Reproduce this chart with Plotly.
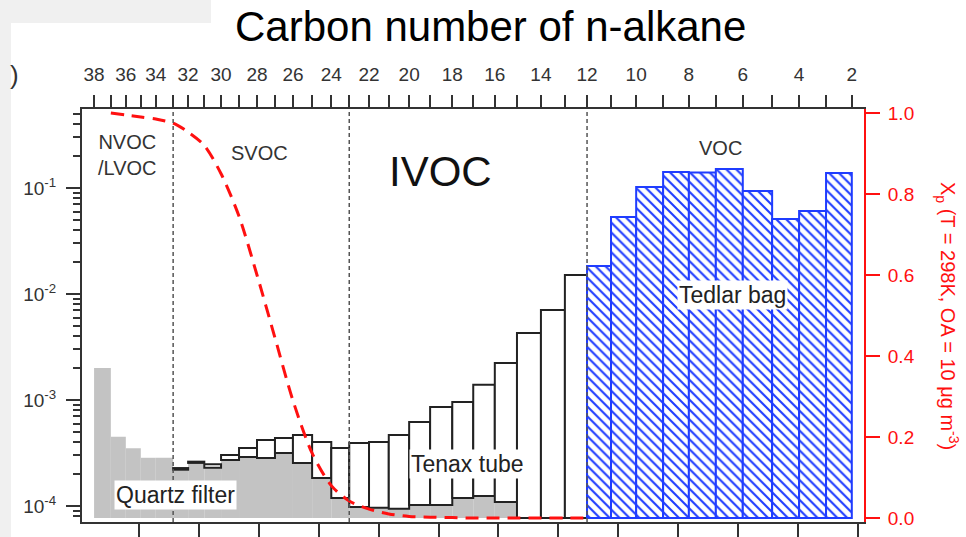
import plotly.graph_objects as go

# ---------------- data ----------------
# carbon numbers of the n-alkane scale (bin edges) and their position on the volatility axis
carbon_numbers = list(range(38, 1, -1))
carbon_pos = [-0.75, -0.47, -0.22, 0.03, 0.28, 0.57, 0.82, 1.09, 1.37, 1.67,
              1.97, 2.27, 2.57, 2.89, 3.21, 3.51, 3.84, 4.17, 4.51, 4.86,
              5.23, 5.58, 5.94, 6.31, 6.71, 7.11, 7.48, 7.88, 8.30, 8.75,
              9.18, 9.63, 10.08, 10.57, 11.02, 11.47, 11.90]

# bins, labelled by carbon number of their left edge (38 ... 3)
bin_carbon = list(range(38, 2, -1))
quartz = [2.0e-3, 4.5e-4, 3.5e-4, 2.85e-4, 2.85e-4, 2.2e-4, 2.55e-4, 2.3e-4, 2.72e-4, 2.9e-4,
          2.84e-4, 3.16e-4, 2.55e-4, 1.84e-4, 1.19e-4, 9.8e-5, 9.6e-5, 9.4e-5, 1.02e-4, 1.02e-4,
          1.19e-4, 1.24e-4, 1.09e-4, None, None, None, None, None, None, None,
          None, None, None, None, None, None]
tenax = [None, None, None, None, None, 8e-6, 7e-6, 1.7e-5, 3.1e-5, 6.2e-5,
         1.36e-4, 1.22e-4, 2.13e-4, 2.18e-4, 2.33e-4, 2.95e-4, 3.06e-4, 3.74e-4, 5.18e-4, 7.58e-4,
         8.41e-4, 1.266e-3, 2.12e-3, 4.29e-3, 7.06e-3, 1.51e-2, None, None, None, None,
         None, None, None, None, None, None]
tedlar = [None] * 26 + [1.84e-2, 5.32e-2, 0.102, 0.1415, 0.140, 0.151, 0.0937, 0.0511, 0.0607, 0.1387]

# particle-phase fraction Xp at each carbon number
xp_carbon = list(range(37, 11, -1))
xp_values = [1.0, 0.995, 0.99, 0.985, 0.975, 0.953, 0.92, 0.85, 0.745, 0.60,
             0.445, 0.29, 0.16, 0.08, 0.042, 0.022, 0.010, 0.004, 0.002, 0.001,
             0.0, 0.0, 0.0, 0.0, 0.0, 0.0]

top_labels = [str(c) if c % 2 == 0 else "" for c in carbon_numbers]
decade_vals = [1e-4, 1e-3, 1e-2, 1e-1]
decade_text = ["10<sup>-4</sup>", "10<sup>-3</sup>", "10<sup>-2</sup>", "10<sup>-1</sup>"]
xp_ticks = [0.0, 0.2, 0.4, 0.6, 0.8, 1.0]
xp_ticktext = ["0.0", "0.2", "0.4", "0.6", "0.8", "1.0"]
region_bounds = [33, 23, 12]

# ---------------- layout constants ----------------
W, H = 966, 537
L, R, T, B = 82, 864, 109, 522
FLOOR = 7.7e-5
FONT = "Liberation Sans, Arial, sans-serif"
AX = "#333333"
RED = "#ff1010"
BLUE = "#1f3cff"


def px2x(px):
    return (px - L) / (R - L)


def py2y(py):
    return (B - py) / (B - T)


pos_of = dict(zip(carbon_numbers, carbon_pos))

fig = go.Figure()

# quartz filter bars
qx, qw, qb, qy = [], [], [], []
for c, q in zip(bin_carbon, quartz):
    if q is None:
        continue
    left, right = pos_of[c], pos_of[c - 1]
    qx.append((left + right) / 2); qw.append(right - left)
    qb.append(FLOOR); qy.append(q - FLOOR)
fig.add_trace(go.Bar(x=qx, y=qy, base=qb, width=qw,
                     marker=dict(color="#c3c3c3", line=dict(width=0)),
                     showlegend=False))

# tenax tube bars (stacked on the quartz amount)
tx, tw, tb, ty = [], [], [], []
for c, q, t in zip(bin_carbon, quartz, tenax):
    if t is None:
        continue
    left, right = pos_of[c], pos_of[c - 1]
    tx.append((left + right) / 2); tw.append(right - left)
    if q is None:
        tb.append(FLOOR); ty.append(t - FLOOR)
    else:
        tb.append(q); ty.append(t)
fig.add_trace(go.Bar(x=tx, y=ty, base=tb, width=tw,
                     marker=dict(color="white", line=dict(color="#222222", width=2)),
                     showlegend=False))

# tedlar bag bars
dx, dw, db, dy = [], [], [], []
for c, v in zip(bin_carbon, tedlar):
    if v is None:
        continue
    left, right = pos_of[c], pos_of[c - 1]
    dx.append((left + right) / 2); dw.append(right - left)
    db.append(FLOOR); dy.append(v - FLOOR)
fig.add_trace(go.Bar(x=dx, y=dy, base=db, width=dw,
                     marker=dict(color="white", line=dict(color=BLUE, width=2),
                                 pattern=dict(shape="\\", fgcolor=BLUE, bgcolor="white",
                                              size=7, solidity=0.3, fillmode="replace")),
                     showlegend=False))

# Xp curve (right axis)
fig.add_trace(go.Scatter(x=[pos_of[c] for c in xp_carbon], y=xp_values,
                         xaxis="x2", yaxis="y2", mode="lines",
                         line=dict(color=RED, width=3, dash="13px,8px", shape="spline", smoothing=0.8),
                         showlegend=False))

# region boundaries
shapes = []
for c in region_bounds:
    shapes.append(dict(type="line", xref="x", yref="paper", x0=pos_of[c], x1=pos_of[c],
                       y0=0, y1=1, line=dict(color="#555555", width=1.5, dash="4px,3px"),
                       layer="above"))
# grey strips of the cropped figure
shapes.append(dict(type="rect", xref="paper", yref="paper", x0=px2x(0), x1=px2x(11),
                   y0=py2y(537), y1=py2y(0), fillcolor="#f0f0f0", line=dict(width=0), layer="below"))
shapes.append(dict(type="rect", xref="paper", yref="paper", x0=px2x(0), x1=px2x(211),
                   y0=py2y(23), y1=py2y(0), fillcolor="#f0f0f0", line=dict(width=0), layer="below"))


def ann(text, px, py, size, color="#333333", bg=None, angle=0):
    d = dict(text=text, x=px2x(px), y=py2y(py), xref="paper", yref="paper",
             showarrow=False, xanchor="center", yanchor="middle",
             font=dict(family=FONT, size=size, color=color), textangle=angle)
    if bg:
        d.update(bgcolor=bg, borderpad=1)
    return d


annotations = [
    ann("Carbon number of n-alkane", 490, 27, 42, "#000000"),
    ann(")", 14, 75, 26, "#333333"),
    ann("NVOC<br>/LVOC", 127, 155, 20),
    ann("SVOC", 259, 153, 20),
    ann("IVOC", 440, 171, 42, "#111111"),
    ann("VOC", 720, 148, 20),
    ann("Tedlar bag", 732, 295, 23, "#222222", bg="white"),
    ann("Tenax tube", 467, 464, 23, "#222222", bg="white"),
    ann("Quartz filter", 175, 495, 23, "#222222", bg="white"),
    ann("X<sub>p</sub> (T = 298K, OA = 10 μg m<sup>-3</sup>)", 948, 316, 20, RED, angle=90),
]

minor_vals = [k * 10.0 ** d for d in range(-5, 0) for k in range(2, 10)]

xrange_ = [(L - 139) / 59.9, (R - 139) / 59.9]

fig.update_layout(
    width=W, height=H, autosize=False,
    margin=dict(l=L, r=W - R, t=T, b=H - B, pad=0, autoexpand=False),
    paper_bgcolor="white", plot_bgcolor="white",
    barmode="overlay", showlegend=False,
    font=dict(family=FONT, color=AX),
    shapes=shapes, annotations=annotations,
    xaxis=dict(range=xrange_, showgrid=False, zeroline=False, showline=True, linecolor=AX,
               linewidth=2, ticks="outside", ticklen=14, tickwidth=2, tickcolor=AX,
               tickmode="linear", tick0=0, dtick=1, showticklabels=False, automargin=False),
    xaxis2=dict(range=xrange_, overlaying="x", side="top", anchor="y", showgrid=False,
                zeroline=False, showline=True, linecolor=AX, linewidth=2,
                ticks="outside", ticklen=12, tickwidth=1.5, tickcolor=AX,
                tickmode="array", tickvals=carbon_pos, ticktext=top_labels,
                tickfont=dict(size=19, color=AX), ticklabelstandoff=6, automargin=False),
    yaxis=dict(type="log", range=[-4.151, -0.2547], showgrid=False, zeroline=False,
               showline=True, linecolor=AX, linewidth=2, ticks="outside", ticklen=14,
               tickwidth=2, tickcolor=AX, tickmode="array", tickvals=decade_vals,
               ticktext=decade_text, tickfont=dict(size=19, color=AX), ticklabelstandoff=6,
               automargin=False,
               minor=dict(ticks="outside", ticklen=7, tickwidth=1.5, tickcolor=AX,
                          tickmode="array", tickvals=minor_vals)),
    yaxis2=dict(range=[-(B - 518) / 405, (518 - T) / 405], overlaying="y", side="right",
                anchor="x2", showgrid=False, zeroline=False, showline=True, linecolor=RED,
                linewidth=2, ticks="outside", ticklen=14, tickwidth=2, tickcolor=RED,
                tickmode="array", tickvals=xp_ticks, ticktext=xp_ticktext,
                tickfont=dict(size=19, color=RED), ticklabelstandoff=4, automargin=False),
)

fig.write_html("out.html", config={"displayModeBar": False},
               post_script="document.body.style.margin='0px';")
